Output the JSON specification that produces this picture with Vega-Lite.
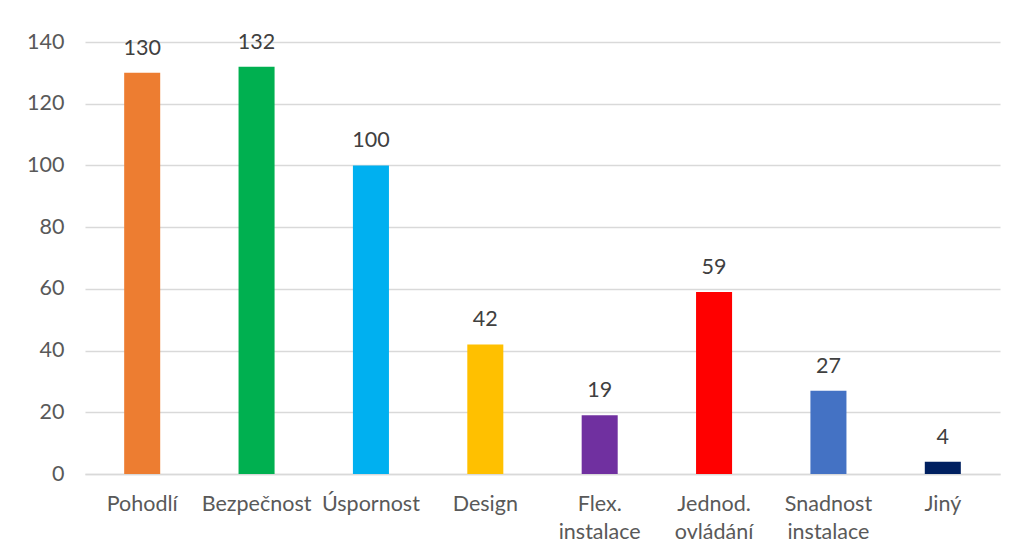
{
  "$schema": "https://vega.github.io/schema/vega-lite/v6.json",
  "width": 915,
  "height": 432,
  "autosize": {"type": "none"},
  "padding": {"left": 85, "top": 42, "right": 14, "bottom": 81},
  "background": "white",
  "config": {
    "view": {"stroke": null},
    "font": "Lato"
  },
  "data": {
    "values": [
      {"kategorie": "Pohodlí", "pocet": 130, "barva": "#ED7D31"},
      {"kategorie": "Bezpečnost", "pocet": 132, "barva": "#00B050"},
      {"kategorie": "Úspornost", "pocet": 100, "barva": "#00B0F0"},
      {"kategorie": "Design", "pocet": 42, "barva": "#FFC000"},
      {"kategorie": "Flex.|instalace", "pocet": 19, "barva": "#7030A0"},
      {"kategorie": "Jednod.|ovládání", "pocet": 59, "barva": "#FF0000"},
      {"kategorie": "Snadnost|instalace", "pocet": 27, "barva": "#4472C4"},
      {"kategorie": "Jiný", "pocet": 4, "barva": "#002060"}
    ]
  },
  "encoding": {
    "x": {
      "field": "kategorie",
      "type": "nominal",
      "sort": null,
      "scale": {"paddingInner": 0.685, "paddingOuter": 0.3425},
      "axis": {
        "title": null,
        "labelAngle": 0,
        "labelExpr": "split(datum.label, '|')",
        "labelFontSize": 21.5,
        "labelColor": "#595959",
        "labelPadding": 19,
        "labelLineHeight": 28,
        "ticks": false,
        "domainColor": "#D9D9D9",
        "domainWidth": 1.5,
        "grid": false
      }
    },
    "y": {
      "field": "pocet",
      "type": "quantitative",
      "scale": {"domain": [0, 140], "nice": false},
      "axis": {
        "title": null,
        "values": [0, 20, 40, 60, 80, 100, 120, 140],
        "labelFontSize": 21.5,
        "labelColor": "#595959",
        "labelPadding": 21,
        "ticks": false,
        "domain": false,
        "gridColor": "#D9D9D9",
        "gridWidth": 1.5
      }
    }
  },
  "layer": [
    {
      "mark": {"type": "bar"},
      "encoding": {
        "color": {"field": "barva", "type": "nominal", "scale": null}
      }
    },
    {
      "mark": {"type": "text", "baseline": "alphabetic", "dy": -18, "fontSize": 21.5, "color": "#404040"},
      "encoding": {
        "text": {"field": "pocet", "type": "quantitative"}
      }
    }
  ]
}
